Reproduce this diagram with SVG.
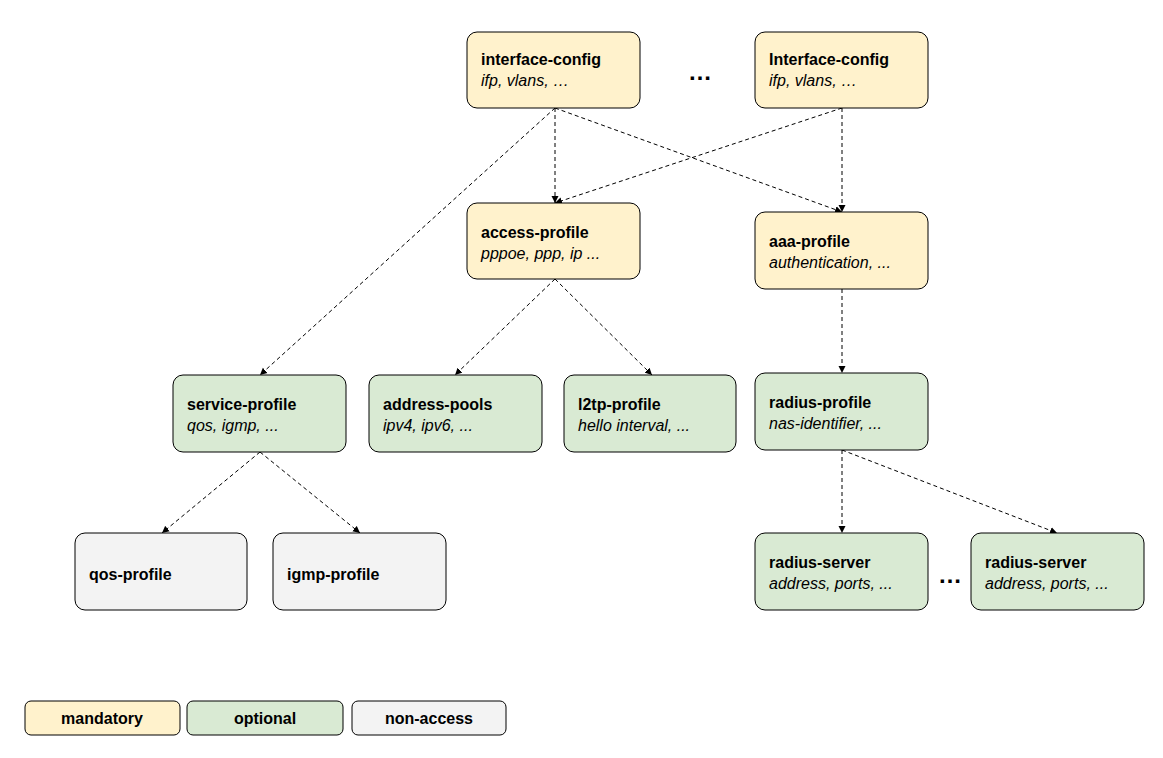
<svg xmlns="http://www.w3.org/2000/svg" width="1163" height="758" viewBox="0 0 1163 758">
<style>
rect{stroke:#000;stroke-width:1}
.m{fill:#fff2cc}.o{fill:#d9ead3}.n{fill:#f3f3f3}
text{font-family:"Liberation Sans",Arial,sans-serif;font-size:16px;fill:#000}
.b{font-weight:bold}.i{font-style:italic}
.c line{stroke:#000;stroke-width:1;stroke-dasharray:4,3;marker-end:url(#a)}
.d{font-weight:bold;font-size:24px}
</style>
<defs><marker id="a" markerWidth="8" markerHeight="8" refX="7" refY="4" orient="auto" markerUnits="userSpaceOnUse"><path d="M0,0.5 L7,4 L0,7.5z" fill="#000"/></marker></defs>
<rect width="1163" height="758" fill="#fff" stroke="none" style="stroke:none"/>
<g class="c">
<line x1="555" y1="108" x2="260" y2="375"/>
<line x1="555" y1="108" x2="555" y2="203"/>
<line x1="555" y1="108" x2="842" y2="212"/>
<line x1="842" y1="108" x2="842" y2="212"/>
<line x1="842" y1="108" x2="555" y2="203"/>
<line x1="555" y1="279" x2="455" y2="375"/>
<line x1="555" y1="279" x2="652" y2="375"/>
<line x1="842" y1="289" x2="842" y2="373"/>
<line x1="260" y1="452" x2="162" y2="533"/>
<line x1="260" y1="452" x2="360" y2="533"/>
<line x1="842" y1="450" x2="842" y2="533"/>
<line x1="842" y1="450" x2="1057" y2="533"/>
</g>
<g id="ic1"><rect class="m" x="467" y="32" width="173" height="76" rx="10"/><text class="b" x="481" y="65">interface-config</text><text class="i" x="481" y="86">ifp, vlans, …</text></g>
<g id="ic2"><rect class="m" x="755" y="32" width="173" height="76" rx="10"/><text class="b" x="769" y="65">Interface-config</text><text class="i" x="769" y="86">ifp, vlans, …</text></g>
<g id="ap"><rect class="m" x="467" y="203" width="173" height="76" rx="10"/><text class="b" x="481" y="238">access-profile</text><text class="i" x="481" y="259">pppoe, ppp, ip ...</text></g>
<g id="aaa"><rect class="m" x="755" y="212" width="173" height="77" rx="10"/><text class="b" x="769" y="247">aaa-profile</text><text class="i" x="769" y="268">authentication, ...</text></g>
<g id="sp"><rect class="o" x="173" y="375" width="173" height="77" rx="10"/><text class="b" x="187" y="410">service-profile</text><text class="i" x="187" y="431">qos, igmp, ...</text></g>
<g id="pools"><rect class="o" x="369" y="375" width="173" height="77" rx="10"/><text class="b" x="383" y="410">address-pools</text><text class="i" x="383" y="431">ipv4, ipv6, ...</text></g>
<g id="l2tp"><rect class="o" x="564" y="375" width="172" height="77" rx="10"/><text class="b" x="578" y="410">l2tp-profile</text><text class="i" x="578" y="431">hello interval, ...</text></g>
<g id="rp"><rect class="o" x="755" y="373" width="173" height="77" rx="10"/><text class="b" x="769" y="408">radius-profile</text><text class="i" x="769" y="429">nas-identifier, ...</text></g>
<g id="qos"><rect class="n" x="75" y="533" width="172" height="77" rx="10"/><text class="b" x="89" y="580">qos-profile</text></g>
<g id="igmp"><rect class="n" x="273" y="533" width="173" height="77" rx="10"/><text class="b" x="287" y="580">igmp-profile</text></g>
<g id="rs1"><rect class="o" x="755" y="533" width="173" height="77" rx="10"/><text class="b" x="769" y="568">radius-server</text><text class="i" x="769" y="589">address, ports, ...</text></g>
<g id="rs2"><rect class="o" x="971" y="533" width="173" height="77" rx="10"/><text class="b" x="985" y="568">radius-server</text><text class="i" x="985" y="589">address, ports, ...</text></g>
<text class="d" x="700" y="80" text-anchor="middle">…</text>
<text class="d" x="950" y="583" text-anchor="middle">…</text>
<g id="legend">
<rect class="m" x="25" y="701" width="155" height="34" rx="6"/><text class="b" x="102" y="724" text-anchor="middle">mandatory</text>
<rect class="o" x="187" y="701" width="156" height="34" rx="6"/><text class="b" x="265" y="724" text-anchor="middle">optional</text>
<rect class="n" x="352" y="701" width="154" height="34" rx="6"/><text class="b" x="429" y="724" text-anchor="middle">non-access</text>
</g>
</svg>
